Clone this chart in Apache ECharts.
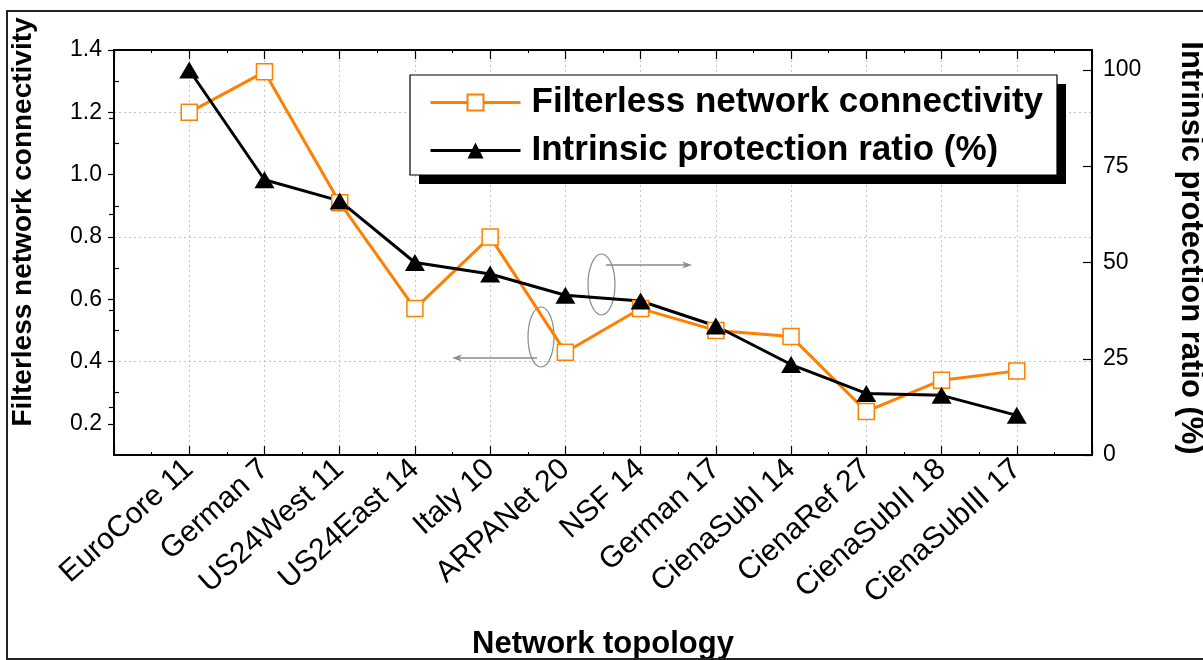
<!DOCTYPE html>
<html>
<head>
<meta charset="utf-8">
<title>Filterless network connectivity and intrinsic protection ratio</title>
<script src="https://cdn.jsdelivr.net/npm/echarts@6/dist/echarts.min.js"></script>
<style>
  html, body { margin: 0; padding: 0; background: #fff; }
  #chart { width: 1203px; height: 660px; }
</style>
</head>
<body>
<div id="chart"></div>
<script>
// Network topologies (name + node count)
const categories = ['EuroCore 11', 'German 7', 'US24West 11', 'US24East 14', 'Italy 10', 'ARPANet 20',
  'NSF 14', 'German 17', 'CienaSubI 14', 'CienaRef 27', 'CienaSubII 18', 'CienaSubIII 17'];
// Filterless network connectivity (left axis)
const connectivity = [1.20, 1.33, 0.91, 0.57, 0.80, 0.43, 0.57, 0.50, 0.48, 0.24, 0.34, 0.37];
// Intrinsic protection ratio in % (right axis)
const protection = [100, 71.5, 66, 50, 47, 41.5, 40, 33.5, 23.5, 16, 15.5, 10.3];

// Axis ticks
const leftTicks = [0.2, 0.4, 0.6, 0.8, 1.0, 1.2, 1.4];
const leftMinorTicks = [0.3, 0.5, 0.7, 0.9, 1.1, 1.3];
const rightTicks = [0, 25, 50, 75, 100];
const rightMinorTicks = [12.5, 37.5, 62.5, 87.5];

const FONT = '"Liberation Sans", Arial, Helvetica, sans-serif';
const ORANGE = '#FF8000';
const GRID_GRAY = '#c4c4c4';

const chart = echarts.init(document.getElementById('chart'), null, { renderer: 'canvas' });

const xBase = {
  type: 'value', min: 0, max: categories.length + 1, interval: 1,
  axisLine: { show: true, onZero: false, lineStyle: { color: '#000', width: 2 } },
  axisTick: { show: true, inside: true, length: 9, lineStyle: { color: '#000', width: 1.2 } },
  minorTick: { show: true, splitNumber: 2, length: 3, lineStyle: { color: '#000', width: 1 } }
};

const option = {
  backgroundColor: '#fff',
  animation: false,
  grid: { left: 114, right: 111, top: 50, bottom: 205, containLabel: false },
  legend: {
    orient: 'vertical', left: 410, top: 75,
    padding: [9, 16, 8, 19], itemGap: 11, itemWidth: 90, itemHeight: 20,
    backgroundColor: 'transparent', borderWidth: 0,
    textStyle: { fontFamily: FONT, fontWeight: 'bold', fontSize: 35, color: '#000', lineHeight: 37, padding: [0, 0, 0, 6] },
    data: [
      { name: 'Filterless network connectivity', lineStyle: { width: 3, color: ORANGE } },
      { name: 'Intrinsic protection ratio (%)', lineStyle: { width: 3, color: '#000' } }
    ]
  },
  xAxis: [
    Object.assign({}, xBase, {
      position: 'bottom',
      splitLine: { show: true, lineStyle: { color: GRID_GRAY, type: [2, 3], width: 1 } },
      axisLabel: {
        show: true, rotate: 42, margin: 10, fontFamily: FONT, fontSize: 30, color: '#000',
        formatter: v => categories[v - 1] || ''
      }
    }),
    Object.assign({}, xBase, {
      position: 'top',
      splitLine: { show: false },
      axisLabel: { show: false }
    })
  ],
  yAxis: [
    {
      type: 'value', position: 'left', min: 0.1, max: 1.4, interval: 0.1,
      axisLine: { show: true, onZero: false, lineStyle: { color: '#000', width: 2 } },
      axisTick: { show: true, inside: false, length: 6, customValues: leftTicks, lineStyle: { color: '#000', width: 1.2 } },
      axisLabel: {
        show: true, margin: 12, fontFamily: FONT, fontSize: 23, color: '#000', customValues: leftTicks,
        formatter: v => v.toFixed(1)
      },
      splitLine: { show: true, lineStyle: { color: ['rgba(0,0,0,0)', GRID_GRAY], type: [2, 3], width: 1 } }
    },
    {
      type: 'value', position: 'right', min: 0, max: 105.2, interval: 25,
      axisLine: { show: true, onZero: false, lineStyle: { color: '#000', width: 2 } },
      axisTick: { show: true, inside: true, length: 9, customValues: rightTicks, lineStyle: { color: '#000', width: 1.2 } },
      axisLabel: { show: true, margin: 11, fontFamily: FONT, fontSize: 23, color: '#000', customValues: rightTicks },
      splitLine: { show: false }
    },
    {
      // minor ticks on the left axis, pointing into the plot
      type: 'value', position: 'left', offset: 0, min: 0.1, max: 1.4,
      axisLine: { show: false }, axisLabel: { show: false }, splitLine: { show: false },
      axisTick: { show: true, inside: true, length: 5, customValues: leftMinorTicks, lineStyle: { color: '#000', width: 1.2 } }
    },
    {
      // minor ticks on the right axis
      type: 'value', position: 'right', offset: 0, min: 0, max: 105.2,
      axisLine: { show: false }, axisLabel: { show: false }, splitLine: { show: false },
      axisTick: { show: true, inside: true, length: 5, customValues: rightMinorTicks, lineStyle: { color: '#000', width: 1.2 } }
    }
  ],
  series: [
    {
      name: 'Filterless network connectivity', type: 'line', xAxisIndex: 0, yAxisIndex: 0,
      data: connectivity.map((v, i) => [i + 1, v]),
      symbol: 'rect', symbolSize: 16, showAllSymbol: true,
      lineStyle: { color: ORANGE, width: 3 },
      itemStyle: { color: '#fff', borderColor: ORANGE, borderWidth: 1.5 },
      emphasis: { disabled: true }
    },
    {
      name: 'Intrinsic protection ratio (%)', type: 'line', xAxisIndex: 0, yAxisIndex: 1,
      data: protection.map((v, i) => [i + 1, v]),
      symbol: 'triangle', symbolSize: [20, 17], showAllSymbol: true,
      lineStyle: { color: '#000', width: 3 },
      itemStyle: { color: '#000' },
      emphasis: { disabled: true }
    }
  ]
};

chart.setOption(option);

// Outer frame, legend box, axis titles and the two "which axis" callouts
const GRAY = '#8a8a8a';
function arrow(x1, y, x2) {
  const dir = x2 > x1 ? 1 : -1;
  return [
    { type: 'line', shape: { x1: x1, y1: y, x2: x2 - dir * 6, y2: y }, style: { stroke: GRAY, lineWidth: 1.3 }, silent: true },
    { type: 'polygon', shape: { points: [[x2, y], [x2 - dir * 10, y - 3.5], [x2 - dir * 7, y], [x2 - dir * 10, y + 3.5]] },
      style: { fill: GRAY }, silent: true }
  ];
}

chart.setOption({
  graphic: [
    { type: 'rect', shape: { x: 7, y: 11, width: 1210, height: 648 }, style: { fill: null, stroke: '#222', lineWidth: 2 }, silent: true, z: 100 },
    // legend frame with its solid drop shadow
    { type: 'rect', z: 3, shape: { x: 419, y: 84, width: 647, height: 100 }, style: { fill: '#000' }, silent: true },
    { type: 'rect', z: 3, shape: { x: 410, y: 75, width: 647, height: 100 }, style: { fill: '#fff', stroke: '#000', lineWidth: 1.2 }, silent: true },
    { type: 'text', x: 23, y: 222, rotation: Math.PI / 2,
      style: { text: 'Filterless network connectivity', font: 'bold 28px ' + FONT, fill: '#000', align: 'center', verticalAlign: 'middle' } },
    { type: 'text', x: 1191, y: 248, rotation: -Math.PI / 2,
      style: { text: 'Intrinsic protection ratio (%)', font: 'bold 31px ' + FONT, fill: '#000', align: 'center', verticalAlign: 'middle' } },
    { type: 'text', x: 603, y: 644,
      style: { text: 'Network topology', font: 'bold 31px ' + FONT, fill: '#000', align: 'center', verticalAlign: 'middle' } },
    { type: 'ellipse', shape: { cx: 541, cy: 337, rx: 13, ry: 30 }, style: { fill: null, stroke: GRAY, lineWidth: 1.2 }, silent: true },
    { type: 'ellipse', shape: { cx: 601.5, cy: 284.5, rx: 13.5, ry: 30.5 }, style: { fill: null, stroke: GRAY, lineWidth: 1.2 }, silent: true }
  ].concat(arrow(537, 358, 452), arrow(606, 265, 692))
});
</script>
</body>
</html>
